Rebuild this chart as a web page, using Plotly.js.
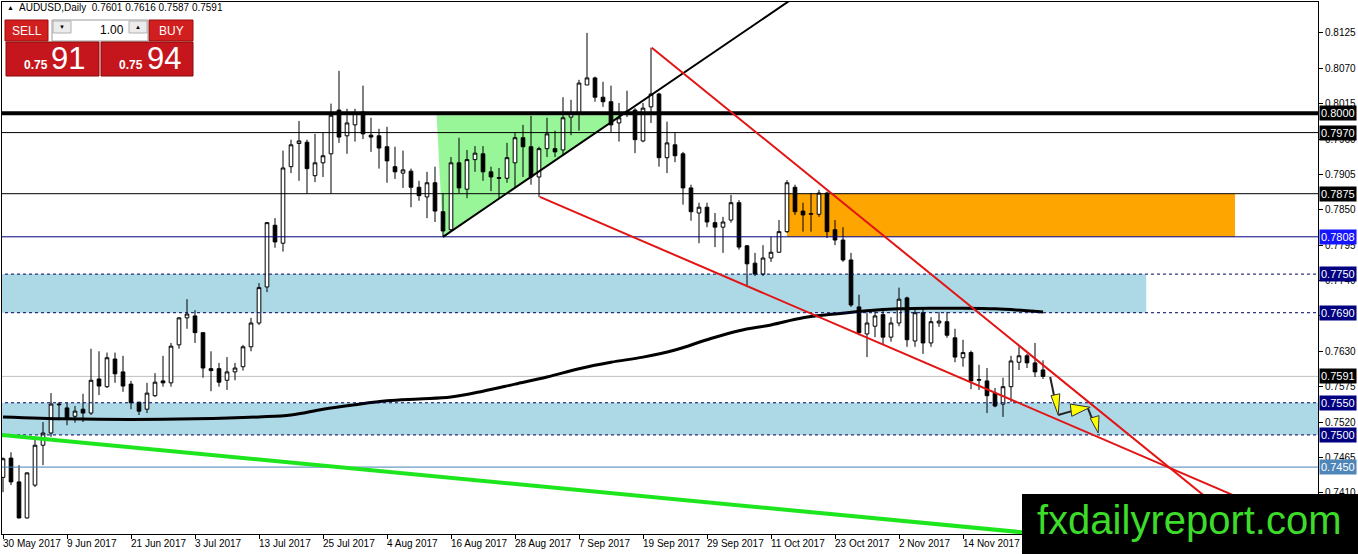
<!DOCTYPE html>
<html>
<head>
<meta charset="utf-8">
<script src="https://cdn.plot.ly/plotly-3.0.1.min.js"></script>
<style>
  html, body { margin: 0; padding: 0; background: #fff; }
  #chart { width: 1358px; height: 554px; }
</style>
</head>
<body>
<div id="chart"></div>
<script>
// AUDUSD daily bars, 30 May 2017 .. 28 Nov 2017 (weekdays)
const opens = [
  .7434,.7464,.7427,.7371,.7422,.7484,.7503,.7548,.7542,.7529,
  .7540,.7534,.7587,.7575,.7618,.7598,.7579,.7551,.7540,.7561,
  .7584,.7581,.7640,.7682,.7685,.7659,.7603,.7603,.7585,.7598,
  .7606,.7637,.7674,.7730,.7826,.7798,.7917,.7953,.7955,.7903,
  .7923,.7937,.8005,.7965,.7982,.8002,.7966,.7965,.7948,.7917,
  .7907,.7910,.7885,.7870,.7892,.7847,.7819,.7923,.7882,.7928,
  .7937,.7909,.7900,.7899,.7923,.7962,.7948,.7901,.7945,.7945,
  .7943,.7994,.8000,.8044,.8055,.8025,.8018,.7985,.8002,.8005,
  .7957,.8010,.8030,.7931,.7951,.7937,.7884,.7845,.7854,.7830,
  .7823,.7834,.7861,.7794,.7767,.7750,.7775,.7784,.7816,.7885,
  .7848,.7843,.7843,.7876,.7819,.7803,.7772,.7699,.7657,.7669,
  .7687,.7652,.7674,.7713,.7646,.7690,.7643,.7674,.7676,.7651,
  .7620,.7628,.7585,.7584,.7565,.7548,.7575,.7613,.7623,.7612,
  .7601];
const highs = [
  .7465,.7473,.7453,.7442,.7497,.7520,.7565,.7551,.7550,.7545,
  .7564,.7634,.7630,.7628,.7628,.7623,.7584,.7551,.7581,.7596,
  .7623,.7643,.7683,.7711,.7694,.7659,.7630,.7612,.7621,.7612,
  .7640,.7682,.7736,.7831,.7837,.7942,.7959,.7988,.7959,.7968,
  .7970,.8015,.8066,.8007,.8007,.8043,.7993,.7976,.7979,.7948,
  .7942,.7914,.7895,.7909,.7917,.7876,.7932,.7962,.7943,.7949,
  .7949,.7917,.7915,.7954,.7971,.7982,.7996,.7948,.7993,.7973,
  .8025,.8021,.8052,.8125,.8057,.8049,.8043,.8016,.8035,.8008,
  .8016,.8102,.8032,.7987,.7971,.7940,.7889,.7861,.7861,.7845,
  .7839,.7873,.7865,.7795,.7783,.7795,.7808,.7834,.7896,.7889,
  .7861,.7876,.7881,.7878,.7834,.7823,.7783,.7718,.7690,.7693,
  .7696,.7683,.7729,.7715,.7697,.7696,.7683,.7691,.7691,.7665,
  .7648,.7631,.7609,.7604,.7573,.7589,.7623,.7637,.7626,.7643,
  .7616];
const lows = [
  .7411,.7422,.7370,.7370,.7419,.7453,.7497,.7523,.7515,.7519,
  .7520,.7531,.7562,.7573,.7581,.7567,.7540,.7531,.7534,.7559,
  .7575,.7575,.7634,.7665,.7643,.7589,.7568,.7575,.7570,.7585,
  .7600,.7630,.7671,.7722,.7791,.7785,.7907,.7895,.7875,.7893,
  .7901,.7875,.7954,.7937,.7956,.7960,.7940,.7914,.7892,.7898,
  .7884,.7854,.7864,.7837,.7831,.7808,.7816,.7876,.7868,.7909,
  .7895,.7879,.7868,.7892,.7884,.7901,.7889,.7870,.7932,.7932,
  .7935,.7966,.7973,.8044,.8018,.8010,.7970,.7956,.7994,.7938,
  .7955,.7985,.7917,.7907,.7924,.7858,.7833,.7798,.7823,.7792,
  .7783,.7830,.7788,.7733,.7747,.7747,.7769,.7783,.7814,.7842,
  .7816,.7816,.7839,.7806,.7795,.7769,.7699,.7655,.7621,.7652,
  .7640,.7645,.7669,.7637,.7637,.7626,.7637,.7668,.7651,.7613,
  .7606,.7571,.7570,.7534,.7543,.7528,.7551,.7601,.7604,.7590,
  .7587];
const closes = [
  .7463,.7427,.7371,.7441,.7484,.7503,.7548,.7547,.7526,.7537,
  .7534,.7585,.7576,.7620,.7595,.7576,.7550,.7537,.7565,.7582,
  .7581,.7638,.7682,.7688,.7659,.7604,.7600,.7582,.7598,.7604,
  .7637,.7674,.7729,.7830,.7800,.7915,.7951,.7957,.7914,.7923,
  .7934,.7997,.7963,.7985,.8001,.7968,.7963,.7946,.7926,.7909,
  .7912,.7885,.7872,.7892,.7848,.7817,.7923,.7884,.7928,.7938,
  .7909,.7901,.7899,.7931,.7962,.7948,.7901,.7945,.7968,.7940,
  .7993,.8000,.8047,.8055,.8025,.8018,.7982,.7993,.8003,.7959,
  .8008,.8030,.7931,.7954,.7934,.7884,.7847,.7854,.7831,.7823,
  .7831,.7861,.7792,.7766,.7750,.7775,.7784,.7816,.7892,.7847,
  .7842,.7844,.7876,.7816,.7803,.7772,.7702,.7659,.7674,.7685,
  .7652,.7674,.7711,.7648,.7690,.7643,.7676,.7677,.7655,.7621,
  .7628,.7584,.7586,.7561,.7545,.7575,.7615,.7623,.7612,.7598,
  .7591];

// moving average, read at a few bars
const maBars = [0,8,16,24,32,36,40,44,48,52,56,60,64,68,72,76,80,84,88,92,96,100,104,108,112,116,120,124,128,130];
const maValues = [.7528,.7525,.7524,.7525,.7528,.7531,.7540,.7547,.7553,.7556,.7559,.7568,.7579,.7590,.7603,
                  .7613,.7621,.7632,.7648,.7662,.7671,.7682,.7688,.7693,.7696,.7697,.7697,.7696,.7693,.7691];

const tickBars = [0,8,16,24,32,40,48,56,64,72,80,88,96,104,112,120];
const tickLabels = ["30 May 2017","9 Jun 2017","21 Jun 2017","3 Jul 2017","13 Jul 2017","25 Jul 2017",
  "4 Aug 2017","16 Aug 2017","28 Aug 2017","7 Sep 2017","19 Sep 2017","29 Sep 2017","11 Oct 2017",
  "23 Oct 2017","2 Nov 2017","14 Nov 2017"];
const priceTicks = [.8125,.8070,.8015,.7960,.7905,.7850,.7795,.7740,.7685,.7630,.7575,.7520,.7465,.7410];

// horizontal levels and their price tags
const levels = [.8000,.7970,.7875,.7808,.7750,.7690,.7591,.7550,.7500,.7450];
const levelColors = ["#000","#000","#000","#000080","#000060","#000060","#c0c0c0","#000060","#000060","#4682b4"];
const levelDash = ["solid","solid","solid","solid","3px,3px","3px,3px","solid","3px,3px","3px,3px","solid"];
const levelWidth = [4,1,1,1,1,1,1,1,1,1];
const tagColors = ["#000","#000","#000","#1515ff","#000080","#000080","#000","#000080","#000080","#4f86b8"];

// zones [bar0, bar1, price0, price1]
const blueZones = [[-2,142.9,.7690,.7750],[-2,170,.7500,.7550]];
const orangeZone = [98,154,.7808,.7875];
// drawn trend lines [bar0, price0, bar1, price1]
const blackTrend = [55,.7808,110,.8274];
const redUpper = [81.1,.8102,160,.7306];
const redLower = [67.1,.7870,160,.7373];
const greenTrend = [-1,.7501,160,.7310];
const greenTriangle = [[54.2,.7997],[55,.7808],[77.3,.7997]];
// hand-drawn forecast arrows
const arrowPath = [[130.9,.7590],[131.5,.7554]];
const arrowPath2 = [[131.9,.7531],[133.6,.7537]];
const arrowPath3 = [[135.6,.7542],[136.1,.7526]];
const arrowHeads = [
  [[131,.7561],[132.1,.7564],[131.9,.7531]],
  [[133.4,.7548],[133.6,.7529],[135.9,.7543]],
  [[135.9,.7526],[137,.7530],[136.9,.7503]]];

const xs = opens.map((_, i) => i);

const candles = {
  type: 'candlestick', x: xs, open: opens, high: highs, low: lows, close: closes,
  increasing: {line: {color: '#000', width: 1}, fillcolor: '#fff'},
  decreasing: {line: {color: '#000', width: 1}, fillcolor: '#000'},
  whiskerwidth: 0, hoverinfo: 'skip', showlegend: false
};
const ma = {
  type: 'scatter', mode: 'lines', x: maBars, y: maValues,
  line: {color: '#000', width: 3, shape: 'spline'}, hoverinfo: 'skip', showlegend: false
};

// pixel helpers for the overlay panel (plot area 2..1318 x 2..534)
const px = x => (x - 2) / 1316;
const py = y => (534 - y) / 532;

const shapes = [];
blueZones.forEach(z => shapes.push({type: 'rect', xref: 'x', yref: 'y', x0: z[0], x1: z[1], y0: z[2], y1: z[3],
  fillcolor: '#add8e6', line: {width: 0}, layer: 'below'}));
shapes.push({type: 'rect', xref: 'x', yref: 'y', x0: orangeZone[0], x1: orangeZone[1], y0: orangeZone[2], y1: orangeZone[3],
  fillcolor: '#ffa500', line: {width: 0}, layer: 'below'});
shapes.push({type: 'path', xref: 'x', yref: 'y',
  path: 'M ' + greenTriangle.map(p => p[0] + ',' + p[1]).join(' L ') + ' Z',
  fillcolor: '#98f598', line: {width: 0}, layer: 'below'});
levels.forEach((v, i) => shapes.push({type: 'line', xref: 'x', yref: 'y', x0: -2, x1: 170, y0: v, y1: v,
  line: {color: levelColors[i], width: levelWidth[i], dash: levelDash[i]}, layer: i === 6 ? 'below' : 'above'}));

function seg(t, color, width) {
  return {type: 'line', xref: 'x', yref: 'y', x0: t[0], y0: t[1], x1: t[2], y1: t[3], line: {color: color, width: width}};
}
shapes.push(seg(greenTrend, '#1ee61e', 4));
shapes.push(seg(blackTrend, '#000', 2));
shapes.push(seg(redUpper, '#e31414', 2));
shapes.push(seg(redLower, '#e31414', 2));
[arrowPath, arrowPath2, arrowPath3].forEach(a => shapes.push({type: 'line', xref: 'x', yref: 'y',
  x0: a[0][0], y0: a[0][1], x1: a[1][0], y1: a[1][1], line: {color: '#222', width: 2}}));
arrowHeads.forEach(h => shapes.push({type: 'path', xref: 'x', yref: 'y',
  path: 'M ' + h.map(p => p[0] + ',' + p[1]).join(' L ') + ' Z',
  fillcolor: '#ffff00', line: {color: '#333', width: 1}}));

// one-click trading panel
function prect(x0, y0, x1, y1, fill, lineColor) {
  shapes.push({type: 'rect', xref: 'paper', yref: 'paper', x0: px(x0), x1: px(x1), y0: py(y1), y1: py(y0),
    fillcolor: fill, line: {color: lineColor || fill, width: 1}, layer: 'above'});
}
prect(5, 20, 48, 41, '#d11f1f', '#9c0d0d');
prect(149, 20, 193, 41, '#d11f1f', '#9c0d0d');
prect(52, 20, 148, 41, '#ffffff', '#9a9a9a');
prect(53, 21, 71, 33, '#ececec', '#b0b0b0');
prect(129, 21, 147, 33, '#ececec', '#b0b0b0');
prect(6, 42, 99, 76, '#c4161c', '#8a0a0a');
prect(101, 42, 193, 76, '#c4161c', '#8a0a0a');
// watermark box
shapes.push({type: 'rect', xref: 'paper', yref: 'paper', x0: px(1022), x1: px(1360), y0: py(556), y1: py(494),
  fillcolor: '#000', line: {width: 0}, layer: 'above'});

const annotations = [];
tickBars.forEach((b, i) => annotations.push({xref: 'x', yref: 'paper', x: b, y: 0, xanchor: 'left', yanchor: 'top',
  xshift: -2, yshift: -2, text: tickLabels[i], showarrow: false, font: {family: 'Liberation Sans, Arial', size: 10, color: '#000'}}));
levels.forEach((v, i) => annotations.push({xref: 'paper', yref: 'y', x: 1, y: v, xanchor: 'left', yanchor: 'middle',
  xshift: 1, text: v.toFixed(4), showarrow: false, bgcolor: tagColors[i], borderpad: 1,
  font: {family: 'Liberation Sans, Arial', size: 11, color: '#fff'}}));

function ptext(x, y, text, size, color, anchor, extra) {
  annotations.push(Object.assign({xref: 'paper', yref: 'paper', x: px(x), y: py(y), xanchor: anchor || 'center',
    yanchor: 'middle', text: text, showarrow: false,
    font: {family: 'Liberation Sans, Arial', size: size, color: color}}, extra || {}));
}
ptext(5, 8, '▲', 7, '#000', 'left');
ptext(17, 8, 'AUDUSD,Daily  0.7601 0.7616 0.7587 0.7591', 10, '#000', 'left');
ptext(27, 31, 'SELL', 12, '#fff');
ptext(171, 31, 'BUY', 12, '#fff');
ptext(126, 30, '1.00', 12, '#000', 'right');
ptext(62, 27, '▼', 6, '#000');
ptext(138, 27, '▲', 6, '#000');
ptext(36, 65, '<b>0.75</b>', 12, '#fff');
ptext(68, 59, '91', 31, '#fff');
ptext(131, 65, '<b>0.75</b>', 12, '#fff');
ptext(164, 59, '94', 31, '#fff');
ptext(1189, 520, 'fxdailyreport.com', 40, '#3ddc2a');

const layout = {
  width: 1358, height: 554,
  margin: {l: 2, r: 40, t: 2, b: 20},
  paper_bgcolor: '#fff', plot_bgcolor: '#fff',
  showlegend: false, hovermode: false, boxgap: 0.35,
  xaxis: {
    type: 'linear', range: [-0.125, 164.375], rangeslider: {visible: false},
    showgrid: false, zeroline: false, showline: true, linecolor: '#000', linewidth: 1, mirror: true,
    tickmode: 'array', tickvals: tickBars, ticks: 'outside', ticklen: 4, tickcolor: '#000', showticklabels: false
  },
  yaxis: {
    side: 'right', range: [0.7346, 0.8173], showgrid: false, zeroline: false,
    showline: true, linecolor: '#000', linewidth: 1, mirror: true,
    tickmode: 'array', tickvals: priceTicks, ticktext: priceTicks.map(v => v.toFixed(4)),
    ticks: 'outside', ticklen: 4, tickcolor: '#000',
    tickfont: {family: 'Liberation Sans, Arial', size: 10, color: '#000'}
  },
  shapes: shapes, annotations: annotations
};

Plotly.newPlot('chart', [candles, ma], layout, {displayModeBar: false, staticPlot: true});
</script>
</body>
</html>
